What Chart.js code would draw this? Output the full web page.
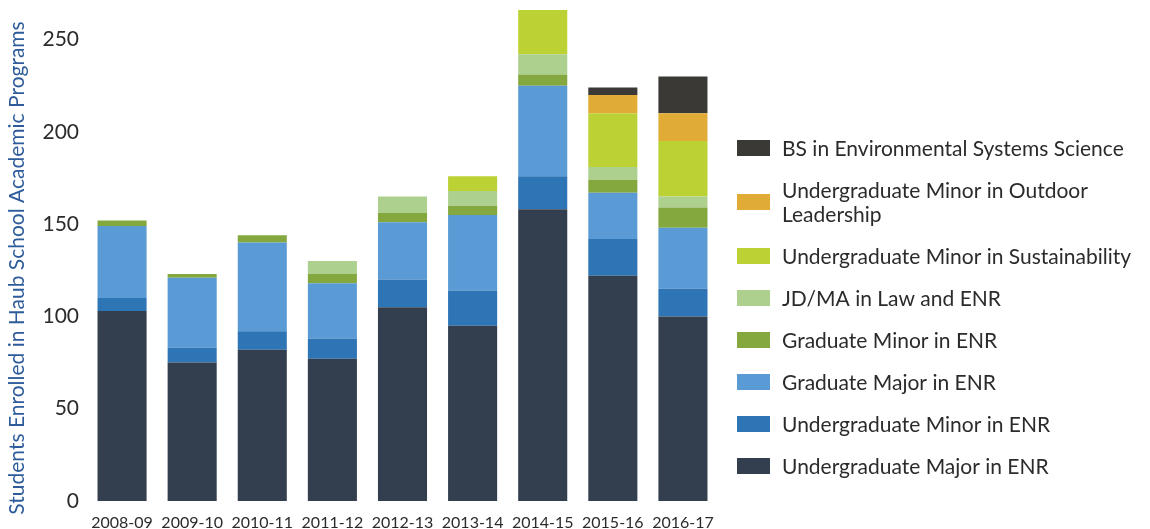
<!DOCTYPE html>
<html>
<head>
<meta charset="utf-8">
<script src="https://cdn.jsdelivr.net/npm/chart.js@4"></script>
<style>
  html, body { margin: 0; padding: 0; background: #fff; }
  #wrap { width: 1150px; height: 529px; }
</style>
</head>
<body>
<div id="wrap"><canvas id="enrollChart"></canvas></div>
<script>
// Academic years
const years = ['2008-09', '2009-10', '2010-11', '2011-12', '2012-13', '2013-14', '2014-15', '2015-16', '2016-17'];

// Students per program
const ugMajor   = [103, 75, 82, 77, 105, 95, 158, 122, 100];
const ugMinor   = [7, 8, 10, 11, 15, 19, 18, 20, 15];
const gradMajor = [39, 38, 48, 30, 31, 41, 49, 25, 33];
const gradMinor = [3, 2, 4, 5, 5, 5, 6, 7, 11];
const jdMa      = [0, 0, 0, 7, 9, 8, 11, 7, 6];
const sustain   = [0, 0, 0, 0, 0, 8, 24, 29, 30];
const outdoor   = [0, 0, 0, 0, 0, 0, 0, 10, 15];
const bsEss     = [0, 0, 0, 0, 0, 0, 0, 4, 20];

const yTicks = [0, 50, 100, 150, 200, 250];
const yTitle = 'Students Enrolled in Haub School Academic Programs';

const FONT = 'Lato, "Open Sans", sans-serif';

// Legend on the right (top item = last dataset) and the y axis title
const sideLegend = {
    id: 'sideLegend',
    afterDraw(chart) {
        const ctx = chart.ctx;
        const sets = chart.data.datasets.slice().reverse();
        let y = 136;
        ctx.save();
        ctx.font = '21px ' + FONT;
        ctx.textBaseline = 'middle';
        sets.forEach(ds => {
            const lines = ds.label.split('\n');
            const h = lines.length * 24;
            ctx.fillStyle = ds.backgroundColor;
            ctx.fillRect(737, y + h / 2 - 8, 33, 16);
            ctx.fillStyle = '#2b2b2b';
            lines.forEach((ln, i) => ctx.fillText(ln, 782, y + 13 + i * 24));
            y += h + 18;
        });

        // rotated axis title, sitting a bit below the plot centre like the original
        ctx.translate(17, 268);
        ctx.rotate(-Math.PI / 2);
        ctx.textAlign = 'center';
        ctx.fillStyle = '#2e5c9a';
        ctx.fillText(yTitle, 0, 0);
        ctx.restore();
    }
};

new Chart(document.getElementById('enrollChart'), {
    type: 'bar',
    data: {
        labels: years,
        datasets: [
            { label: 'Undergraduate Major in ENR', data: ugMajor, backgroundColor: '#333f4f' },
            { label: 'Undergraduate Minor in ENR', data: ugMinor, backgroundColor: '#2e75b6' },
            { label: 'Graduate Major in ENR', data: gradMajor, backgroundColor: '#5b9bd5' },
            { label: 'Graduate Minor in ENR', data: gradMinor, backgroundColor: '#84a83e' },
            { label: 'JD/MA in Law and ENR', data: jdMa, backgroundColor: '#add08e' },
            { label: 'Undergraduate Minor in Sustainability', data: sustain, backgroundColor: '#bcd234' },
            { label: 'Undergraduate Minor in Outdoor\nLeadership', data: outdoor, backgroundColor: '#e0ac35' },
            { label: 'BS in Environmental Systems Science', data: bsEss, backgroundColor: '#3b3936' }
        ]
    },
    options: {
        responsive: true,
        maintainAspectRatio: false,
        animation: false,
        layout: { padding: { top: 10, right: 432, left: 0, bottom: 0 } },
        datasets: { bar: { barPercentage: 0.7, categoryPercentage: 1.0, borderWidth: 0 } },
        plugins: {
            legend: { display: false },
            tooltip: { enabled: false }
        },
        scales: {
            x: {
                stacked: true,
                grid: { display: false, drawTicks: false },
                border: { display: false },
                ticks: { color: '#2b2b2b', font: { family: FONT, size: 16 }, padding: 12, maxRotation: 0, autoSkip: false },
                afterFit(scale) { scale.height = 28; }
            },
            y: {
                stacked: true,
                min: 0,
                max: 266,
                grid: { display: false, drawTicks: false },
                border: { display: false },
                afterBuildTicks(scale) { scale.ticks = yTicks.map(v => ({ value: v })); },
                ticks: { color: '#2b2b2b', font: { family: FONT, size: 21 }, padding: 8 },
                afterFit(scale) {
                    scale.width = 87;
                    scale.paddingTop = 0;
                    scale.paddingBottom = 0;
                }
            }
        }
    },
    plugins: [sideLegend]
});
</script>
</body>
</html>
